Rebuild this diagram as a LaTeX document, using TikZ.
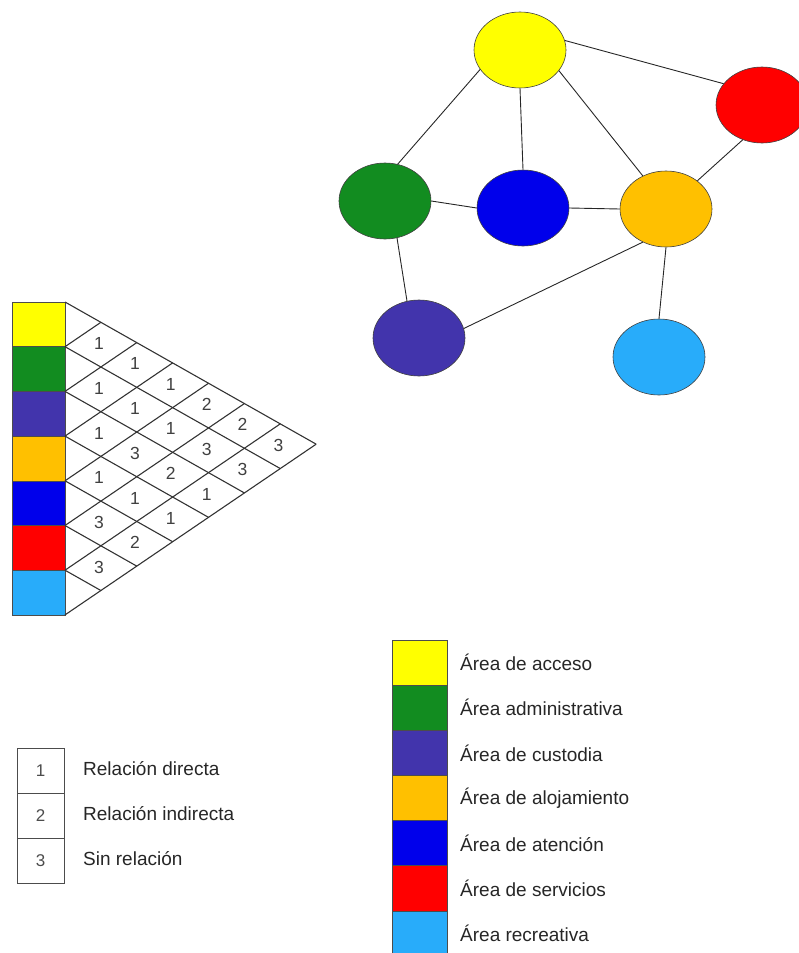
\documentclass[tikz,border=0pt]{standalone}
\usepackage{fontspec}
\setmainfont{Liberation Sans}
\usetikzlibrary{shapes.geometric}
\definecolor{cyel}{RGB}{255,255,0}
\definecolor{cgre}{RGB}{18,140,32}
\definecolor{cpur}{RGB}{66,52,172}
\definecolor{cora}{RGB}{255,192,0}
\definecolor{cblu}{RGB}{0,0,235}
\definecolor{cred}{RGB}{255,0,0}
\definecolor{clbl}{RGB}{40,172,250}
\newcommand\gp[2]{({65+((#2)-(#1))*35.88},{302+(#1)*44.7+((#2)-(#1))*20.31})}
\tikzset{
  area/.style={ellipse,draw=black!75,line width=0.6pt,minimum width=92pt,minimum height=76pt,inner sep=0pt},
  edge/.style={draw=black!85,line width=0.9pt},
  gridline/.style={draw=black!80,line width=1.1pt},
  swatch/.style={draw=black!70,line width=0.6pt},
  digit/.style={font=\fontsize{17.5}{20}\selectfont,text=black!75,inner sep=0pt},
  lbl/.style={font=\fontsize{19}{22}\selectfont,text=black!85,anchor=west,inner sep=0pt}
}
\begin{document}
\begin{tikzpicture}[x=1pt,y=-1pt]
\useasboundingbox (0,0) rectangle (799,953);
\clip (0,0) rectangle (799,953);
% graph
\node[area,fill=cyel] (acc) at (520,50) {};
\node[area,fill=cred] (ser) at (762,105) {};
\node[area,fill=cgre] (adm) at (385,201) {};
\node[area,fill=cblu] (ate) at (523,208) {};
\node[area,fill=cora] (alo) at (666,209) {};
\node[area,fill=cpur] (cus) at (419,338) {};
\node[area,fill=clbl] (rec) at (659,357) {};
\draw[edge] (acc.12) -- (ser.151);
\draw[edge] (acc.206) -- (adm.71);
\draw[edge] (acc.270) -- (ate.90);
\draw[edge] (acc.332) -- (alo.125);
\draw[edge] (ser.241) -- (alo.42);
\draw[edge] (adm.0) -- (ate.180);
\draw[edge] (ate.0) -- (alo.180);
\draw[edge] (adm.288) -- (cus.108);
\draw[edge] (alo.235) -- (cus.12);
\draw[edge] (alo.270) -- (rec.90);
% matrix colour column
\foreach \c [count=\i from 0] in {cyel,cgre,cpur,cora,cblu,cred,clbl}{
  \path[swatch,fill=\c] (12,{302+\i*44.7}) rectangle (65,{302+(\i+1)*44.7});
}
% matrix grid
\foreach \k in {0,...,7}{
  \draw[gridline] \gp{\k}{\k} -- \gp{\k}{7};
  \draw[gridline] \gp{\k}{\k} -- \gp{0}{\k};
}
\foreach \a/\b/\v [count=\n] in {0/1/1,1/2/1,2/3/1,3/4/1,4/5/3,5/6/3,
  0/2/1,1/3/1,2/4/3,3/5/1,4/6/2,
  0/3/1,1/4/1,2/5/2,3/6/1,
  0/4/2,1/5/3,2/6/1,
  0/5/2,1/6/3,
  0/6/3}{
  \node[digit] (m\n) at \gp{\a+0.5}{\b+0.5-0.05} {\v};
}
% legend relations
\foreach \v/\t [count=\i from 0] in {1/Relación directa,2/Relación indirecta,3/Sin relación}{
  \node[draw=black!70,line width=0.6pt,minimum width=47pt,minimum height=45pt,inner sep=0pt,
        font=\fontsize{17}{19}\selectfont,text=black!70] (r\i) at (40.5,{770.5+\i*45}) {\v};
  \node[lbl] (rt\i) at (83,{769+\i*45}) {\t};
}
% legend areas
\foreach \c/\t [count=\i from 0] in {cyel/Área de acceso,cgre/Área administrativa,cpur/Área de custodia,
  cora/Área de alojamiento,cblu/Área de atención,cred/Área de servicios,clbl/Área recreativa}{
  \node[swatch,fill=\c,minimum width=55pt,minimum height=45.15pt,inner sep=0pt] (s\i) at (419.5,{662.6+\i*45.15}) {};
  \node[lbl] (st\i) at (460,{662.6+\i*45.15}) {\t};
}
\end{tikzpicture}
\end{document}
